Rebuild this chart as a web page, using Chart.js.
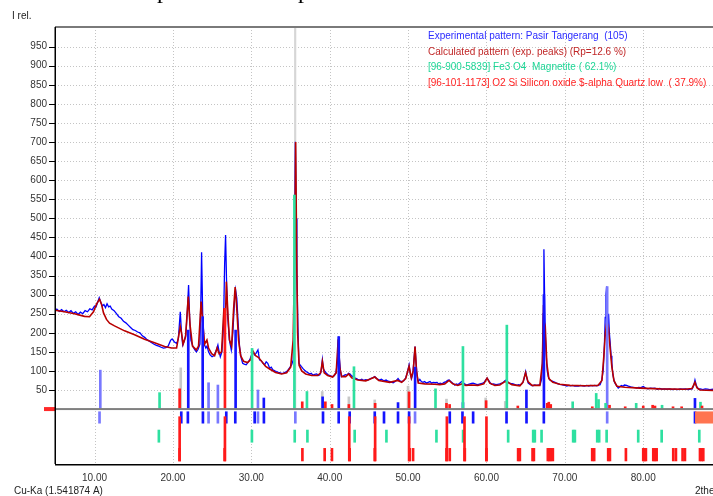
<!DOCTYPE html>
<html>
<head>
<meta charset="utf-8">
<script src="https://cdn.jsdelivr.net/npm/chart.js@4"></script>
<style>
  html, body { margin: 0; padding: 0; background: #fff; overflow: hidden; }
  canvas { display: block; }
</style>
</head>
<body>
<canvas id="xrd" width="713" height="496" style="width:713px;height:496px"></canvas>
<script>
// ---------- data (2theta, intensity) ----------
const xTicks = [10, 20, 30, 40, 50, 60, 70, 80]
const yTicks = [50, 100, 150, 200, 250, 300, 350, 400, 450, 500, 550, 600, 650, 700, 750, 800, 850, 900, 950]

const experimental = [
  [4.96,258],[5.2,262],[5.5,256],[5.8,261],[6.1,255],[6.4,259],[6.7,253],[7.0,258],[7.3,251],[7.6,255],
  [7.9,248],[8.2,254],[8.5,250],[8.8,258],[9.1,255],[9.4,263],[9.7,260],[10.0,270],[10.2,268],[10.4,280],
  [10.6,292],[10.8,280],[11.0,270],[11.2,274],[11.4,266],[11.6,276],[11.8,268],[12.0,270],[12.2,262],[12.5,258],
  [12.8,250],[13.1,242],[13.4,238],[13.7,230],[14.0,226],[14.3,220],[14.6,214],[14.9,208],[15.2,206],[15.5,202],
  [15.8,200],[16.1,192],[16.4,188],[16.7,182],[17.0,178],[17.3,174],[17.6,170],[17.9,167],[18.2,165],[18.5,162],
  [18.8,160],[19.1,161],[19.4,165],[19.7,180],[19.9,184],[20.2,176],[20.5,172],[20.7,185],[20.94,255],[21.1,200],
  [21.25,168],[21.45,178],[21.65,195],[21.85,260],[22.0,325],[22.15,230],[22.3,180],[22.55,164],[22.8,155],[23.0,150],
  [23.2,156],[23.45,170],[23.58,300],[23.66,411],[23.8,250],[24.0,170],[24.2,160],[24.35,165],[24.55,150],[24.75,142],
  [25.0,137],[25.25,140],[25.5,152],[25.74,168],[25.9,150],[26.05,137],[26.25,150],[26.45,210],[26.6,380],[26.72,456],
  [26.85,330],[27.0,240],[27.2,181],[27.45,155],[27.65,200],[27.85,280],[28.0,312],[28.15,290],[28.3,234],[28.5,164],
  [28.7,135],[28.9,120],[29.1,118],[29.35,116],[29.55,122],[29.8,129],[30.0,140],[30.2,150],[30.4,142],[30.6,146],
  [30.85,155],[31.05,129],[31.3,126],[31.5,120],[31.7,116],[31.9,124],[32.1,120],[32.35,107],[32.55,110],[32.75,103],
  [33.0,100],[33.2,98],[33.45,96],[33.7,95],[33.9,93],[34.1,94],[34.3,96],[34.5,98],[34.75,104],[34.95,110],
  [35.15,116],[35.35,129],[35.5,300],[35.62,701],[35.72,500],[35.82,356],[35.95,216],[36.08,120],[36.25,115],[36.4,111],
  [36.6,106],[36.8,102],[37.03,98],[37.25,95],[37.45,92],[37.65,94],[37.87,89],[38.1,91],[38.35,92],[38.55,88],
  [38.75,90],[38.92,100],[39.07,129],[39.2,105],[39.35,100],[39.58,94],[39.8,90],[40.0,88],[40.2,86],[40.43,85],
  [40.6,88],[40.8,96],[40.98,120],[41.12,190],[41.25,130],[41.38,100],[41.5,85],[41.75,87],[42.0,90],[42.2,89],
  [42.4,94],[42.6,92],[42.8,87],[43.0,85],[43.2,82],[43.4,80],[43.6,78],[43.85,76],[44.1,78],[44.35,75],
  [44.6,77],[44.9,76],[45.2,80],[45.5,82],[45.75,85],[46.0,80],[46.3,76],[46.6,78],[46.9,74],[47.2,76],
  [47.45,73],[47.7,72],[47.95,70],[48.1,69],[48.35,72],[48.55,76],[48.72,80],[48.95,74],[49.2,72],[49.45,74],
  [49.7,82],[49.9,95],[50.13,116],[50.3,90],[50.45,80],[50.6,92],[50.72,120],[50.89,164],[51.02,120],[51.15,88],
  [51.3,72],[51.5,78],[51.7,72],[51.9,70],[52.1,72],[52.35,68],[52.55,70],[52.8,72],[53.0,68],[53.2,70],
  [53.45,69],[53.7,70],[53.9,66],[54.1,68],[54.35,66],[54.6,70],[54.85,72],[55.05,75],[55.23,76],[55.45,72],
  [55.7,68],[55.96,63],[56.15,66],[56.35,64],[56.6,68],[56.82,72],[57.0,70],[57.2,66],[57.46,63],[57.7,65],
  [57.9,66],[58.1,67],[58.3,68],[58.55,66],[58.8,64],[59.0,65],[59.2,66],[59.45,67],[59.7,70],[59.9,76],
  [60.08,81],[60.25,76],[60.45,70],[60.65,65],[60.9,66],[61.2,64],[61.45,65],[61.7,66],[61.95,68],[62.15,70],
  [62.35,74],[62.5,76],[62.7,72],[62.9,68],[63.1,67],[63.4,66],[63.65,64],[63.9,62],[64.1,64],[64.3,63],
  [64.5,66],[64.7,72],[64.85,85],[65.0,98],[65.15,82],[65.33,68],[65.6,64],[65.9,61],[66.15,63],[66.4,62],
  [66.6,63],[66.85,64],[67.05,80],[67.15,130],[67.24,250],[67.33,419],[67.42,290],[67.5,200],[67.6,150],[67.75,100],
  [67.88,85],[68.09,76],[68.3,74],[68.52,72],[68.75,70],[68.94,68],[69.15,66],[69.36,65],[69.6,64],[69.8,63],
  [70.0,62],[70.26,60],[70.5,62],[70.75,61],[71.0,62],[71.25,60],[71.5,61],[71.75,60],[72.0,62],[72.25,61],
  [72.5,60],[72.8,62],[73.05,60],[73.3,62],[73.55,61],[73.8,62],[74.05,61],[74.3,63],[74.5,64],[74.7,75],
  [74.9,102],[75.05,170],[75.15,240],[75.25,300],[75.33,321],[75.42,230],[75.5,210],[75.58,250],[75.68,200],[75.78,175],
  [75.9,140],[76.0,120],[76.13,90],[76.3,72],[76.45,66],[76.65,60],[76.81,55],[77.0,58],[77.2,62],[77.4,60],
  [77.6,63],[77.88,62],[78.1,60],[78.4,58],[78.7,57],[78.95,56],[79.15,55],[79.4,57],[79.7,56],[80.0,59],
  [80.3,55],[80.6,53],[80.9,55],[81.2,54],[81.5,55],[81.8,52],[82.1,54],[82.4,52],[82.7,53],[83.0,52],
  [83.4,53],[83.7,51],[84.0,52],[84.4,51],[84.7,53],[85.0,52],[85.4,53],[85.7,51],[86.0,52],[86.25,53],
  [86.45,62],[86.6,76],[86.75,64],[86.9,56],[87.05,52],[87.3,53],[87.6,51],[87.9,53],[88.2,52],[88.5,51],[88.9,52]
]

const calculated = [
  [4.96,259],[6.17,255],[7.45,250],[8.72,243],[9.36,242],[9.87,255],[10.26,275],[10.64,288],[10.89,275],[11.15,252],
  [11.53,235],[11.92,225],[12.55,218],[13.83,205],[15.11,195],[16.38,183],[17.66,174],[18.94,164],[19.83,160],[20.47,160],
  [20.72,190],[20.94,216],[21.1,200],[21.3,170],[21.62,190],[21.96,295],[22.19,220],[22.5,165],[22.98,155],[23.27,165],
  [23.6,282],[23.79,230],[24.04,170],[24.34,181],[24.55,160],[24.94,145],[25.32,140],[25.64,160],[25.9,145],[26.21,150],
  [26.51,264],[26.66,200],[26.82,334],[27.04,240],[27.23,181],[27.49,165],[27.74,260],[27.94,320],[28.13,270],[28.38,180],
  [28.64,140],[29.02,125],[29.53,122],[29.92,130],[30.21,152],[30.55,140],[30.94,135],[31.32,125],[31.83,112],[32.34,105],
  [33.1,96],[33.87,92],[34.51,95],[35.02,110],[35.34,180],[35.57,450],[35.66,700],[35.79,400],[35.91,200],[36.1,115],
  [36.43,100],[36.94,92],[37.7,88],[38.47,88],[38.85,95],[39.07,125],[39.3,95],[39.74,88],[40.38,84],[40.83,95],
  [41.09,183],[41.28,110],[41.53,85],[42.04,85],[42.43,92],[42.81,82],[43.58,76],[44.6,74],[45.11,78],[45.75,84],
  [46.26,75],[47.66,70],[48.68,75],[49.19,70],[49.7,80],[50.13,112],[50.41,82],[50.66,100],[50.89,164],[51.08,100],
  [51.3,68],[52.13,66],[53.41,65],[54.05,64],[54.68,66],[55.23,75],[55.7,66],[56.34,62],[56.85,66],[57.37,62],
  [58.13,63],[58.9,62],[59.66,66],[60.08,81],[60.43,68],[61.07,62],[61.7,63],[62.34,72],[62.73,70],[63.24,64],
  [64.26,61],[64.65,70],[64.99,95],[65.29,72],[65.8,62],[66.81,62],[67.13,120],[67.28,273],[67.38,200],[67.51,212],
  [67.7,120],[67.96,80],[68.47,70],[69.36,65],[70.64,62],[72.55,61],[74.22,62],[74.73,75],[74.98,140],[75.17,200],
  [75.36,229],[75.55,215],[75.75,165],[76.0,110],[76.26,75],[76.64,60],[77.66,57],[79.58,55],[82.13,53],[85.32,52],
  [86.22,54],[86.6,70],[86.85,56],[87.24,50],[88.9,49]
]

// peak sticks above the baseline
const expPeaks = [[21.96,207],[23.8,242],[28.0,207],[31.6,29],[39.1,32],[41.16,190],[48.72,17],[50.9,110],[57.0,17],[65.1,50],[67.33,300],[86.6,28]]
const expPeaksWeak = [[10.74,102],[24.55,69],[25.74,63],[30.85,50],[75.4,321]]
const magnetitePeaks = [[18.3,43],[30.1,159],[35.5,561],[37.1,46],[43.1,111],[53.5,53],[57.0,164],[62.6,220],[71.0,19],[74.0,41],[74.3,25],[75.2,15],[79.1,15],[82.4,10],[87.3,18]]
const quartzPeaks = [[20.86,53],[26.64,264],[36.5,19],[39.45,19],[40.3,12],[42.45,12],[45.8,15],[50.13,45],[54.9,15],[55.3,12],[59.96,22],[64.0,8],[67.75,15],[67.95,18],[68.2,12],[73.5,6],[75.7,10],[77.7,6],[80.0,8],[81.2,10],[81.5,8],[83.8,6],[84.9,6],[87.5,8]]
const unmatchedPeaks = [[21.0,108],[39.05,46],[42.45,32],[45.75,24],[50.0,60],[54.9,26],[59.9,29],[62.4,20]]
const cursorAt = 35.6

// stick rows under the baseline
const rowExp = [21.07,21.91,23.83,26.81,27.96,30.43,31.61,39.15,41.15,42.55,45.75,46.93,48.72,50.13,55.32,56.94,58.3,62.56,65.11,67.32,86.6]
const rowExpWeak = [10.64,24.55,25.74,30.85,35.62,50.89,75.4]
const rowMagnetite = [18.21,30.08,35.54,37.16,43.19,47.24,53.62,57.02,62.77,65.96,66.17,67.03,71.06,71.28,74.13,74.38,75.33,79.36,82.35,87.15]
const rowQuartz = [20.85,26.6,36.52,39.36,40.29,42.55,45.75,50.21,50.64,54.9,55.32,57.24,60.0,64.04,64.26,65.88,66.05,67.83,68.02,68.21,68.47,73.49,73.74,75.53,75.75,77.79,80.0,80.15,80.34,81.28,81.49,81.71,83.83,84.17,85.02,85.32,87.24,87.46,87.66]
const rowQuartzLong = [20.86,26.64,42.5,45.8,50.13,54.95,57.2,60.0]

const legendLines = [
  ["Experimental pattern: Pasir Tangerang  (105)", "#2b2bff"],
  ["Calculated pattern (exp. peaks) (Rp=12.6 %)", "#c02626"],
  ["[96-900-5839] Fe3 O4  Magnetite ( 62.1%)", "#1ed696"],
  ["[96-101-1173] O2 Si Silicon oxide $-alpha Quartz low  ( 37.9%)", "#ff2222"]
]

const ROW1 = [-7, -37], ROW2 = [-55, -87], ROW3 = [-103, -136]

const pts = arr => arr.map(p => ({ x: p[0], y: p[1] }))
const sticks = arr => arr.map(p => ({ x: p[0], y: [0, p[1]] }))
const rowSticks = (arr, span) => arr.map(t => ({ x: t, y: span }))

function stickSet(data, color, order, w) {
  return {
    type: "bar", data, backgroundColor: color, borderWidth: 0,
    barThickness: w || 2, grouped: false, order
  }
}

/* ---------- decorations: grid, frame, texts ---------- */
const decor = {
  id: "decor",
  beforeDatasetsDraw(chart) {
    const { ctx, chartArea: a, scales: { x, y } } = chart
    ctx.save()
    ctx.strokeStyle = "#c4c4c4"
    ctx.lineWidth = 1
    ctx.setLineDash([1, 2])
    yTicks.forEach(v => {
      const py = Math.round(y.getPixelForValue(v)) + 0.5
      ctx.beginPath(); ctx.moveTo(a.left, py); ctx.lineTo(a.right, py); ctx.stroke()
    })
    xTicks.forEach(v => {
      const px = Math.round(x.getPixelForValue(v)) + 0.5
      ctx.beginPath(); ctx.moveTo(px, a.top); ctx.lineTo(px, a.bottom); ctx.stroke()
    })
    ctx.restore()
  },
  afterDatasetsDraw(chart) {
    const { ctx, chartArea: a, scales: { x, y } } = chart
    ctx.save()
    // zero line
    const y0 = y.getPixelForValue(0)
    ctx.fillStyle = "#808080"
    ctx.fillRect(a.left, y0 - 1, a.right - a.left, 2)
    ctx.fillStyle = "#ff2a2a"
    ctx.fillRect(44, y0 - 2, 12, 4)
    // frame
    ctx.fillStyle = "#7a7a7a"
    ctx.fillRect(a.left, a.top - 1, a.right - a.left, 2)
    ctx.fillStyle = "#000"
    ctx.fillRect(a.left - 0.5, a.top, 1.5, a.bottom - a.top)
    ctx.fillRect(a.left, a.bottom, a.right - a.left, 1.5)
    // y tick marks
    ctx.strokeStyle = "#000"
    ctx.lineWidth = 1
    yTicks.forEach(v => {
      const py = Math.round(y.getPixelForValue(v)) + 0.5
      ctx.beginPath(); ctx.moveTo(49, py); ctx.lineTo(a.left, py); ctx.stroke()
    })
    ctx.restore()
  },
  afterDraw(chart) {
    const { ctx } = chart
    ctx.save()
    ctx.fillStyle = "#000"
    ctx.font = "24px 'Liberation Serif'"
    ctx.textBaseline = "alphabetic"
    ctx.fillText("p", 157, -2)
    ctx.fillText("p", 298, -2)

    ctx.font = "10px 'Liberation Sans'"
    ctx.textBaseline = "middle"
    legendLines.forEach((l, i) => {
      ctx.fillStyle = l[1]
      ctx.fillText(l[0], 428, 36 + i * 15.8)
    })
    ctx.fillStyle = "#222"
    ctx.fillText("I rel.", 12, 16)
    ctx.fillText("Cu-Ka (1.541874 A)", 14, 491)
    ctx.fillText("2theta", 695, 491)
    ctx.restore()
  }
}

new Chart(document.getElementById("xrd"), {
  type: "line",
  data: {
    datasets: [
      { label: "Experimental", data: pts(experimental), borderColor: "#0000ff", borderWidth: 1.3, pointRadius: 0, tension: 0, order: 6 },
      { label: "Calculated", data: pts(calculated), borderColor: "#b80000", borderWidth: 1.6, pointRadius: 0, tension: 0, order: 5 },
      stickSet([{ x: cursorAt, y: [0, 1001] }], "#d6d6d6", 9, 1.5),
      stickSet(sticks(unmatchedPeaks), "#c8c8c8", 4),
      stickSet(sticks(expPeaksWeak), "#7878ff", 3),
      stickSet(sticks(expPeaks), "#1414ff", 3),
      stickSet(sticks(magnetitePeaks), "#2ee0a0", 2),
      stickSet(sticks(quartzPeaks), "#ff1a1a", 1),
      stickSet(rowSticks(rowExpWeak, ROW1), "#7878ff", 3),
      stickSet(rowSticks(rowExp, ROW1), "#1414ff", 3),
      stickSet(rowSticks(rowMagnetite, ROW2), "#2ee0a0", 2),
      stickSet(rowSticks(rowQuartz, ROW3), "#ff1a1a", 1),
      stickSet(rowSticks(rowQuartzLong, [-20, -136]), "#ff1a1a", 1),
      stickSet([{ x: 87.8, y: ROW1 }], "#ff7450", 1, 18)
    ]
  },
  options: {
    responsive: false,
    animation: false,
    layout: { padding: { top: 27, right: 0, left: 0, bottom: 0 } },
    plugins: { legend: { display: false }, tooltip: { enabled: false } },
    scales: {
      x: {
        type: "linear", min: 4.96, max: 88.9, offset: false,
        grid: { display: false, drawTicks: false }, border: { display: false },
        ticks: { padding: 8, color: "#333", font: { family: "'Liberation Sans'", size: 10 }, maxRotation: 0, callback: v => v.toFixed(2) },
        afterBuildTicks: s => { s.ticks = xTicks.map(v => ({ value: v })) },
        afterFit: s => { s.height = 32 }
      },
      y: {
        min: -144, max: 1001.5,
        grid: { display: false, drawTicks: false }, border: { display: false },
        ticks: { padding: 8, color: "#333", font: { family: "'Liberation Sans'", size: 10 } },
        afterBuildTicks: s => { s.ticks = yTicks.map(v => ({ value: v })) },
        afterFit: s => { s.width = 55 }
      }
    }
  },
  plugins: [decor]
})
</script>
</body>
</html>
